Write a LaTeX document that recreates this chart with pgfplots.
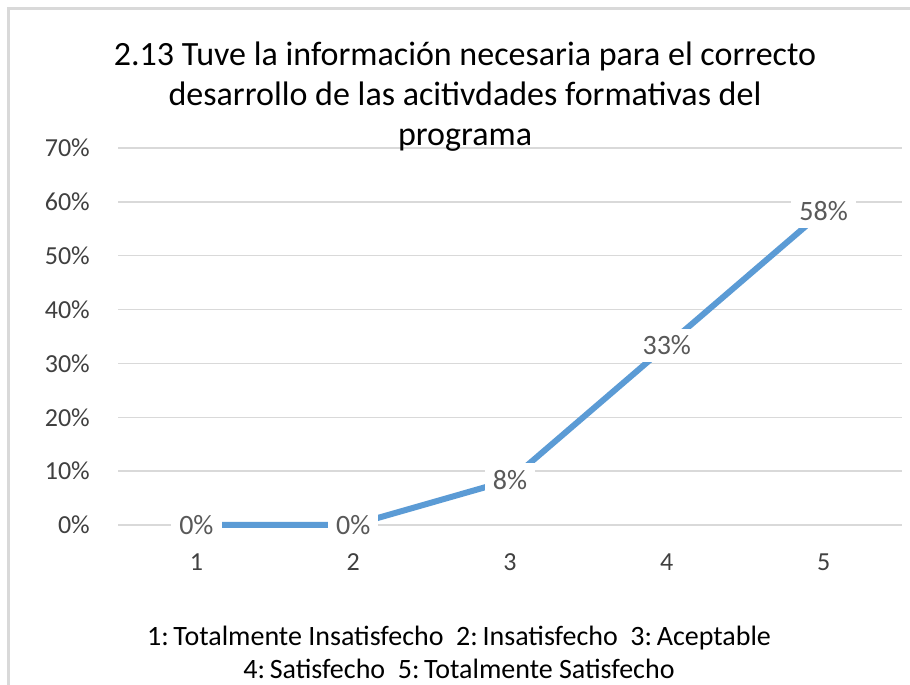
\documentclass[border=0pt]{standalone}
\usepackage{pgfplots}
\pgfplotsset{compat=1.18}
\usepackage{fontspec}
\setmainfont{Carlito}
\definecolor{lineblue}{HTML}{5B9BD5}
\definecolor{gridgray}{HTML}{D9D9D9}
\definecolor{labgray}{HTML}{595959}
\definecolor{tickgray}{HTML}{404040}
\begin{document}
\begin{tikzpicture}[x=1pt,y=1pt]
\useasboundingbox (0,0) rectangle (910,685);
\fill[white] (0,0) rectangle (910,685);
\draw[gridgray, line width=3pt] (8.5,0) -- (8.5,676.5) -- (910,676.5);
\begin{axis}[
  at={(118pt,160pt)}, anchor=south west,
  scale only axis, width=784pt, height=377pt,
  xmin=0.5, xmax=5.5, ymin=0, ymax=0.7,
  xtick={1,2,3,4,5},
  xticklabels={1,2,3,4,5},
  ytick={0,0.1,0.2,0.3,0.4,0.5,0.6,0.7},
  yticklabels={0\%,10\%,20\%,30\%,40\%,50\%,60\%,70\%},
  ymajorgrids, grid style={gridgray, line width=1.5pt},
  axis line style={draw=none},
  major tick length=0pt,
  tick label style={font=\fontsize{26}{31}\selectfont, text=tickgray},
  yticklabel style={anchor=east, inner sep=0pt, xshift=-28pt},
  xticklabel style={anchor=center, inner sep=0pt, yshift=-37pt},
  /pgf/number format/assume math mode=true,
  clip=false,
]
\addplot[lineblue, line width=6pt, line join=round, line cap=round,
  nodes near coords, point meta=explicit symbolic,
  nodes near coords style={anchor=center, fill=white, inner xsep=8pt, inner ysep=7pt,
    text=labgray, font=\fontsize{28}{33}\selectfont}]
  table[meta=lab] {
x y lab
1 0 0\%
2 0 0\%
3 0.0833 8\%
4 0.3333 33\%
5 0.5833 58\%
};
\end{axis}
\begin{scope}[every node/.style={anchor=base, inner sep=0pt, font=\fontsize{34}{40}\selectfont}]
\node at (465,619) {2.13 Tuve la información necesaria para el correcto};
\node at (465,579) {desarrollo de las acitivdades formativas del};
\node at (465,539) {programa};
\end{scope}
\begin{scope}[every node/.style={anchor=base, inner sep=0pt, font=\fontsize{28}{33}\selectfont}]
\node at (459,39) {1:\,Totalmente Insatisfecho\ \ 2:\,Insatisfecho\ \ 3:\,Aceptable};
\node at (459,6) {4:\,Satisfecho\ \ 5:\,Totalmente Satisfecho};
\end{scope}
\end{tikzpicture}
\end{document}
